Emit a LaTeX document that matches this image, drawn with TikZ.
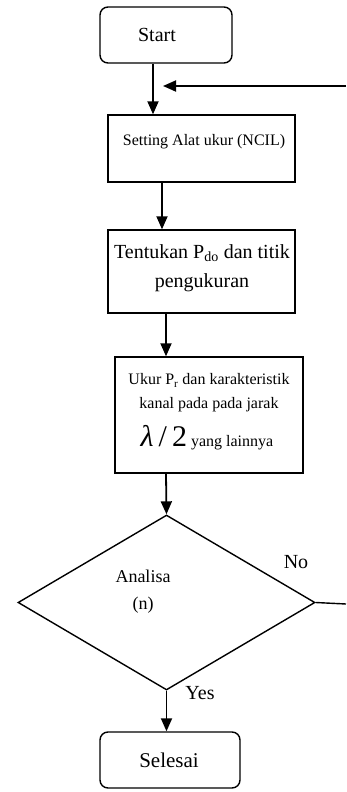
\documentclass[tikz,border=0pt]{standalone}
\usepackage{fontspec}
\setmainfont{Liberation Serif}
\usetikzlibrary{arrows.meta,calc,shapes.geometric}
\begin{document}
\begin{tikzpicture}[x=1pt,y=-1pt,
  box/.style={draw,line width=1.4pt,rectangle,inner sep=0pt},
  term/.style={draw,line width=1.4pt,rectangle,rounded corners=8pt,inner sep=0pt},
  txt/.style={inner sep=0pt,align=center},
  arr/.style={line width=1.8pt,-{Triangle[width=11pt,length=13pt]}},
  ln/.style={line width=1.4pt}]
\useasboundingbox (0,0) rectangle (346,792);
% nodes
\node[term,minimum width=132pt,minimum height=56pt] (start) at (166,35) {};
\node[txt,font=\fontsize{20}{22}\selectfont] (starttxt) at (157,35) {Start};
\node[box,minimum width=187pt,minimum height=67pt] (set) at (201.5,148.5) {};
\node[txt,font=\fontsize{16}{18}\selectfont] (settxt) at (204,142) {Setting Alat ukur (NCIL)};
\node[box,minimum width=187pt,minimum height=83pt] (tent) at (201.5,271.5) {};
\node[txt,font=\fontsize{20}{29}\selectfont] (tenttxt) at (202,268) {Tentukan P\textsubscript{do} dan titik\\pengukuran};
\node[box,minimum width=188pt,minimum height=116pt] (ukur) at (209,415) {};
\node[txt,font=\fontsize{16}{24}\selectfont] (ukurtxt) at (209,393) {Ukur P\textsubscript{r} dan karakteristik\\kanal pada pada jarak};
\node[txt,anchor=base] (lam) at (207,446) {\fontsize{30}{32}\selectfont\itshape λ\upshape\,/\,2\fontsize{16}{18}\selectfont\ yang lainnya};
\node[draw,line width=1.4pt,diamond,minimum width=297pt,minimum height=175pt,inner sep=0pt] (dec) at (166.5,602.5) {};
\node[txt,font=\fontsize{18}{27}\selectfont] (dectxt) at (143,592) {Analisa\\(n)};
\node[txt,font=\fontsize{20}{20}\selectfont] (no) at (296,562) {No};
\node[txt,font=\fontsize{20}{20}\selectfont] (yes) at (200,693) {Yes};
\node[term,minimum width=140pt,minimum height=56pt] (end) at (170,760) {};
\node[txt,font=\fontsize{21}{22}\selectfont] (endtxt) at (169,760) {Selesai};
\coordinate (fbtop) at (346,86);
\coordinate (fbbot) at (346,604);
% connectors
\draw[arr] (start.south -| 153,0) -- (set.north -| 153,0);
\draw[arr] (fbtop) -- (163,86);
\draw[arr] (set.south -| 162,0) -- (tent.north -| 162,0);
\draw[arr] (tent.south -| 166,0) -- (ukur.north -| 166,0);
\draw[arr] (ukur.south -| 166,0) -- (dec.north);
\draw[arr] (dec.south) -- (end.north -| dec.south);
\draw[ln] (dec.east) -- (fbbot);
\end{tikzpicture}
\end{document}
